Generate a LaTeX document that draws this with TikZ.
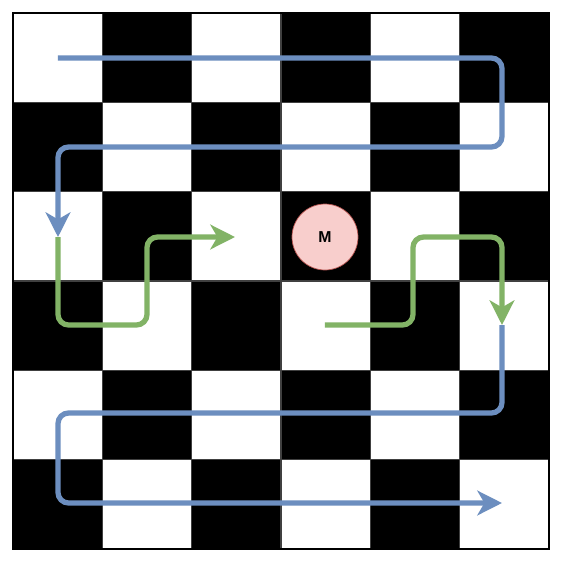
\documentclass[tikz,border=0pt]{standalone}
\usepackage{fontspec}
\setsansfont{Liberation Sans}
\usetikzlibrary{arrows.meta}

\definecolor{pathblue}{HTML}{6C8EBF}
\definecolor{pathgreen}{HTML}{82B366}
\definecolor{markfill}{HTML}{F8CECC}
\definecolor{markline}{HTML}{B85450}

\begin{document}
\begin{tikzpicture}[
  x=0.02cm, y=-0.02cm,
  font=\sffamily\bfseries\small,
  cell/.style={draw=black!75,line width=0.6pt},
  route/.style={line width=3pt,rounded corners=6pt,
    -{Stealth[length=14pt,width=14pt,inset=4pt]}},
  piece/.style={circle,draw=markline,fill=markfill,minimum size=1.32cm,inner sep=0pt}
]
  \useasboundingbox (0,0) rectangle (562,566);

  % board
  \foreach \r in {0,...,5} {
    \foreach \c in {0,...,5} {
      \pgfmathtruncatemacro{\odd}{mod(\r+\c,2)}
      \ifnum\odd=1
        \filldraw[cell,fill=black] (13+\c*89.33,13+\r*89.33) rectangle ++(89.33,89.33);
      \else
        \filldraw[cell,fill=white] (13+\c*89.33,13+\r*89.33) rectangle ++(89.33,89.33);
      \fi
    }
  }
  \draw[line width=0.8pt] (13,13) rectangle (549,549);

  \node[piece] (M) at (325,237) {M};

  % way points
  \coordinate (a0) at (58,58);
  \coordinate (a1) at (502,147);
  \coordinate (a2) at (58,237);
  \coordinate (g1) at (147,325);
  \coordinate (g2) at (235,237);
  \coordinate (h0) at (325,325);
  \coordinate (h1) at (413,237);
  \coordinate (h2) at (502,325);
  \coordinate (b1) at (58,413);
  \coordinate (b2) at (502,503);

  \draw[route,pathblue] (a0) -| (a1) -| (a2);
  \draw[route,pathgreen] (a2) |- (g1) |- (g2);
  \draw[route,pathgreen] (h0) -| (h1) -| (h2);
  \draw[route,pathblue] (h2) |- (b1) |- (b2);
\end{tikzpicture}
\end{document}
